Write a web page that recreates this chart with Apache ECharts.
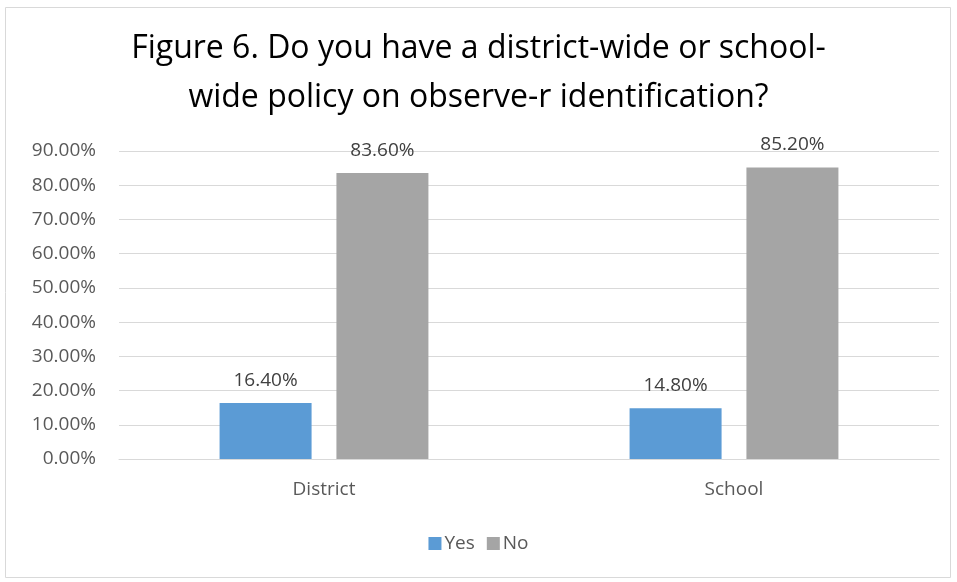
<!DOCTYPE html>
<html><head><meta charset="utf-8">
<script src="https://cdn.jsdelivr.net/npm/echarts@6/dist/echarts.min.js"></script>
<style>html,body{margin:0;padding:0;background:#fff}#c{width:957px;height:582px}</style>
</head><body><div id="c"></div>
<script>
const categories = ['District', 'School'];
const yesValues = [16.4, 14.8];
const noValues = [83.6, 85.2];
const titleText = 'Figure 6. Do you have a district-wide or school-\nwide policy on observe-r identification?';
const FONT = '"Open Sans", sans-serif';
const chart = echarts.init(document.getElementById('c'), null, {renderer: 'canvas'});
const lbl = {show: true, position: 'top', distance: 13, color: '#404040', fontSize: 19, fontFamily: FONT,
  formatter: p => p.value.toFixed(2) + '%'};
chart.setOption({
  animation: false,
  graphic: [{type: 'rect', shape: {x: 5.5, y: 7.5, width: 945, height: 570},
    style: {fill: 'none', stroke: '#d9d9d9', lineWidth: 1}}],
  title: {text: titleText, left: 'center', top: 19,
    textStyle: {fontFamily: FONT, fontSize: 32, fontWeight: 'normal', color: '#000', lineHeight: 49}},
  legend: {bottom: 24, left: 'center', itemWidth: 13, itemHeight: 13, itemGap: 12,
    icon: 'rect', textStyle: {fontFamily: FONT, fontSize: 19, color: '#595959', padding: [0, 0, 0, -2]},
    data: ['Yes', 'No']},
  grid: {left: 119, right: 18, top: 151, bottom: 123, containLabel: false},
  xAxis: {type: 'category', data: categories,
    axisLine: {lineStyle: {color: '#d9d9d9'}}, axisTick: {show: false},
    axisLabel: {color: '#595959', fontSize: 19, fontFamily: FONT, margin: 21}},
  yAxis: {type: 'value', min: 0, max: 90, interval: 10,
    axisLine: {show: false}, axisTick: {show: false},
    splitLine: {lineStyle: {color: '#d9d9d9'}},
    axisLabel: {color: '#595959', fontSize: 19, fontFamily: FONT, margin: 23,
      formatter: v => v.toFixed(2) + '%'}},
  series: [
    {name: 'Yes', type: 'bar', data: yesValues, barWidth: 92, barGap: '27%',
      itemStyle: {color: '#5b9bd5'}, label: lbl},
    {name: 'No', type: 'bar', data: noValues, barWidth: 92,
      itemStyle: {color: '#a5a5a5'}, label: lbl}
  ]
});
</script></body></html>
